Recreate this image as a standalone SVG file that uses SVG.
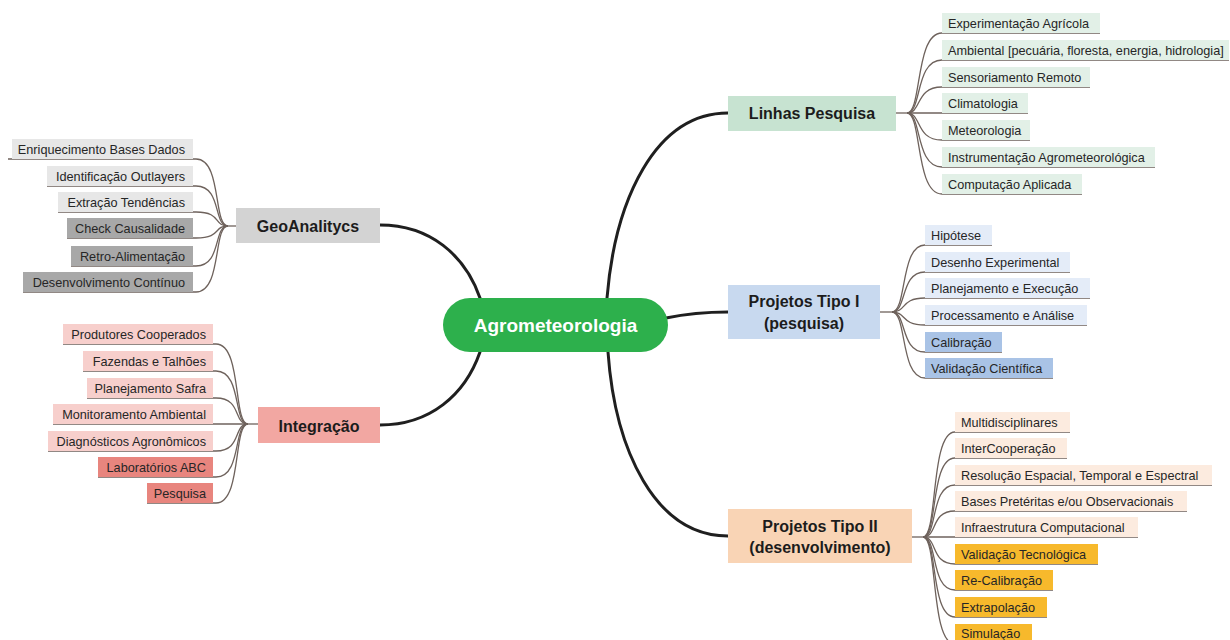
<svg xmlns="http://www.w3.org/2000/svg" width="1230" height="640" viewBox="0 0 1230 640">
<style>
.bg{fill:#ffffff}
.main{fill:none;stroke:#1f1f1f;stroke-width:3;stroke-linecap:round}
.br{fill:none;stroke:#6e625c;stroke-width:1.3}
.pt{font-family:"Liberation Sans",Arial,sans-serif;font-weight:bold;font-size:16px;fill:#1c1c1c;text-anchor:middle}
.lt{font-family:"Liberation Sans",Arial,sans-serif;font-size:12.7px;fill:#262626}
.le{text-anchor:end}
.g1{fill:#e2f0e7}.g0{fill:#c7e3d1}
.b1{fill:#e4ecf8}.b2{fill:#a9c3e6}.b0{fill:#c8d9ef}
.o1{fill:#fcebdf}.o2{fill:#f7b92c}.o0{fill:#f9d4b5}
.s1{fill:#e7e7e7}.s2{fill:#a8a8a8}.s0{fill:#d3d3d3}
.r1{fill:#f7cfcc}.r2{fill:#e8857e}.r0{fill:#f2a7a2}
</style>
<rect class="bg" x="0" y="0" width="1230" height="640"/>
<g id="connectors">
<path class="main" d="M607,298 C615,200 655,113 728,113"/>
<path class="main" d="M666,318 C690,313 705,312 728,312"/>
<path class="main" d="M608,352 C615,450 655,536 728,536"/>
<path class="main" d="M380,225 C430,225 465,255 480,298"/>
<path class="main" d="M380,425 C430,425 465,395 480,352"/>
<!-- Linhas Pesquisa branches -->
<path class="br" d="M896,113 H907"/>
<path class="br" d="M907,113 C922,113 915,33 942,33 H1100"/>
<path class="br" d="M907,113 C922,113 915,60 942,60 H1229"/>
<path class="br" d="M907,113 C922,113 915,87 942,87 H1090"/>
<path class="br" d="M907,113 C922,113 915,113 942,113 H1028"/>
<path class="br" d="M907,113 C922,113 915,140 942,140 H1030"/>
<path class="br" d="M907,113 C922,113 915,167 942,167 H1155"/>
<path class="br" d="M907,113 C922,113 915,194 942,194 H1082"/>
<!-- Tipo I branches -->
<path class="br" d="M880,312 H892"/>
<path class="br" d="M892,312 C907,312 900,245 925,245 H992"/>
<path class="br" d="M892,312 C907,312 900,272 925,272 H1070"/>
<path class="br" d="M892,312 C907,312 900,298 925,298 H1090"/>
<path class="br" d="M892,312 C907,312 900,325 925,325 H1087"/>
<path class="br" d="M892,312 C907,312 900,352 925,352 H1002"/>
<path class="br" d="M892,312 C907,312 900,378 925,378 H1053"/>
<!-- Tipo II branches -->
<path class="br" d="M912,537 H923"/>
<path class="br" d="M923,537 C938,537 930,432 955,432 H1070"/>
<path class="br" d="M923,537 C938,537 930,458 955,458 H1067"/>
<path class="br" d="M923,537 C938,537 930,485 955,485 H1212"/>
<path class="br" d="M923,537 C938,537 930,511 955,511 H1187"/>
<path class="br" d="M923,537 C938,537 930,537 955,537 H1138"/>
<path class="br" d="M923,537 C938,537 930,564 955,564 H1098"/>
<path class="br" d="M923,537 C938,537 930,590 955,590 H1053"/>
<path class="br" d="M923,537 C938,537 930,617 955,617 H1047"/>
<path class="br" d="M923,537 C938,537 930,644 955,644 H1032"/>
<!-- GeoAnalitycs branches -->
<path class="br" d="M236,226 H228"/>
<path class="br" d="M228,226 C213,226 222,159 196,159 H8"/>
<path class="br" d="M228,226 C213,226 222,186 196,186 H47"/>
<path class="br" d="M228,226 C213,226 222,212 196,212 H58"/>
<path class="br" d="M228,226 C213,226 222,238 196,238 H67"/>
<path class="br" d="M228,226 C213,226 222,266 196,266 H71"/>
<path class="br" d="M228,226 C213,226 222,292 196,292 H23"/>
<!-- Integração branches -->
<path class="br" d="M258,424 H248"/>
<path class="br" d="M248,424 C233,424 242,344 216,344 H63"/>
<path class="br" d="M248,424 C233,424 242,371 216,371 H83"/>
<path class="br" d="M248,424 C233,424 242,398 216,398 H87"/>
<path class="br" d="M248,424 C233,424 242,424 216,424 H53"/>
<path class="br" d="M248,424 C233,424 242,451 216,451 H48"/>
<path class="br" d="M248,424 C233,424 242,477 216,477 H98"/>
<path class="br" d="M248,424 C233,424 242,503 216,503 H147"/>
</g>
<g id="center">
<rect x="443" y="298" width="225" height="54" rx="27" fill="#2db04c"/>
<text x="555.5" y="332" font-family="Liberation Sans,Arial,sans-serif" font-weight="bold" font-size="19" fill="#ffffff" text-anchor="middle">Agrometeorologia</text>
</g>
<g id="linhas-pesquisa">
<rect class="g0" x="728" y="96" width="168" height="35"/>
<text class="pt" x="812" y="119">Linhas Pesquisa</text>
</g>
<g id="linhas-leaves">
<g id="l1"><rect class="g1" x="942" y="13" width="158" height="20"/><text class="lt" x="948" y="28">Experimentação Agrícola</text></g>
<g id="l2"><rect class="g1" x="942" y="40" width="287" height="20"/><text class="lt" x="948" y="55">Ambiental [pecuária, floresta, energia, hidrologia]</text></g>
<g id="l3"><rect class="g1" x="942" y="67" width="148" height="20"/><text class="lt" x="948" y="82">Sensoriamento Remoto</text></g>
<g id="l4"><rect class="g1" x="942" y="93" width="86" height="20"/><text class="lt" x="948" y="108">Climatologia</text></g>
<g id="l5"><rect class="g1" x="942" y="120" width="88" height="20"/><text class="lt" x="948" y="135">Meteorologia</text></g>
<g id="l6"><rect class="g1" x="942" y="147" width="213" height="20"/><text class="lt" x="948" y="162">Instrumentação Agrometeorológica</text></g>
<g id="l7"><rect class="g1" x="942" y="174" width="140" height="20"/><text class="lt" x="948" y="189">Computação Aplicada</text></g>
</g>
<g id="projetos-tipo-1">
<rect class="b0" x="728" y="285" width="152" height="54"/>
<text class="pt" x="804" y="307">Projetos Tipo I</text>
<text class="pt" x="804" y="329">(pesquisa)</text>
</g>
<g id="tipo1-leaves">
<g id="p1"><rect class="b1" x="925" y="225" width="67" height="20"/><text class="lt" x="931" y="240">Hipótese</text></g>
<g id="p2"><rect class="b1" x="925" y="252" width="145" height="20"/><text class="lt" x="931" y="267">Desenho Experimental</text></g>
<g id="p3"><rect class="b1" x="925" y="278" width="165" height="20"/><text class="lt" x="931" y="293">Planejamento e Execução</text></g>
<g id="p4"><rect class="b1" x="925" y="305" width="162" height="20"/><text class="lt" x="931" y="320">Processamento e Análise</text></g>
<g id="p5"><rect class="b2" x="925" y="332" width="77" height="20"/><text class="lt" x="931" y="347">Calibração</text></g>
<g id="p6"><rect class="b2" x="925" y="358" width="128" height="20"/><text class="lt" x="931" y="373">Validação Científica</text></g>
</g>
<g id="projetos-tipo-2">
<rect class="o0" x="728" y="509" width="184" height="54"/>
<text class="pt" x="820" y="532">Projetos Tipo II</text>
<text class="pt" x="820" y="553">(desenvolvimento)</text>
</g>
<g id="tipo2-leaves">
<g id="d1"><rect class="o1" x="955" y="412" width="115" height="20"/><text class="lt" x="961" y="427">Multidisciplinares</text></g>
<g id="d2"><rect class="o1" x="955" y="438" width="112" height="20"/><text class="lt" x="961" y="453">InterCooperação</text></g>
<g id="d3"><rect class="o1" x="955" y="465" width="257" height="20"/><text class="lt" x="961" y="480">Resolução Espacial, Temporal e Espectral</text></g>
<g id="d4"><rect class="o1" x="955" y="491" width="232" height="20"/><text class="lt" x="961" y="506">Bases Pretéritas e/ou Observacionais</text></g>
<g id="d5"><rect class="o1" x="955" y="517" width="183" height="20"/><text class="lt" x="961" y="532">Infraestrutura Computacional</text></g>
<g id="d6"><rect class="o2" x="955" y="544" width="143" height="20"/><text class="lt" x="961" y="559">Validação Tecnológica</text></g>
<g id="d7"><rect class="o2" x="955" y="570" width="98" height="20"/><text class="lt" x="961" y="585">Re-Calibração</text></g>
<g id="d8"><rect class="o2" x="955" y="597" width="92" height="20"/><text class="lt" x="961" y="612">Extrapolação</text></g>
<g id="d9"><rect class="o2" x="955" y="624" width="77" height="20"/><text class="lt" x="961" y="638">Simulação</text></g>
</g>
<g id="geoanalitycs">
<rect class="s0" x="236" y="208" width="144" height="35"/>
<text class="pt" x="308" y="232">GeoAnalitycs</text>
</g>
<g id="geo-leaves">
<g id="a1"><rect class="s1" x="12" y="139" width="181" height="20"/><text class="lt le" x="185" y="154">Enriquecimento Bases Dados</text></g>
<g id="a2"><rect class="s1" x="47" y="166" width="146" height="20"/><text class="lt le" x="185" y="181">Identificação Outlayers</text></g>
<g id="a3"><rect class="s1" x="58" y="192" width="135" height="20"/><text class="lt le" x="185" y="207">Extração Tendências</text></g>
<g id="a4"><rect class="s2" x="67" y="218" width="126" height="20"/><text class="lt le" x="185" y="233">Check Causalidade</text></g>
<g id="a5"><rect class="s2" x="71" y="246" width="122" height="20"/><text class="lt le" x="185" y="261">Retro-Alimentação</text></g>
<g id="a6"><rect class="s2" x="23" y="272" width="170" height="20"/><text class="lt le" x="185" y="287">Desenvolvimento Contínuo</text></g>
</g>
<g id="integracao">
<rect class="r0" x="258" y="407" width="122" height="36"/>
<text class="pt" x="319" y="432">Integração</text>
</g>
<g id="int-leaves">
<g id="i1"><rect class="r1" x="63" y="324" width="150" height="20"/><text class="lt le" x="206" y="339">Produtores Cooperados</text></g>
<g id="i2"><rect class="r1" x="83" y="351" width="130" height="20"/><text class="lt le" x="206" y="366">Fazendas e Talhões</text></g>
<g id="i3"><rect class="r1" x="87" y="378" width="126" height="20"/><text class="lt le" x="206" y="393">Planejamento Safra</text></g>
<g id="i4"><rect class="r1" x="53" y="404" width="160" height="20"/><text class="lt le" x="206" y="419">Monitoramento Ambiental</text></g>
<g id="i5"><rect class="r1" x="48" y="431" width="165" height="20"/><text class="lt le" x="206" y="446">Diagnósticos Agronômicos</text></g>
<g id="i6"><rect class="r2" x="98" y="457" width="115" height="20"/><text class="lt le" x="206" y="472">Laboratórios ABC</text></g>
<g id="i7"><rect class="r2" x="147" y="483" width="66" height="20"/><text class="lt le" x="206" y="498">Pesquisa</text></g>
</g>
</svg>
